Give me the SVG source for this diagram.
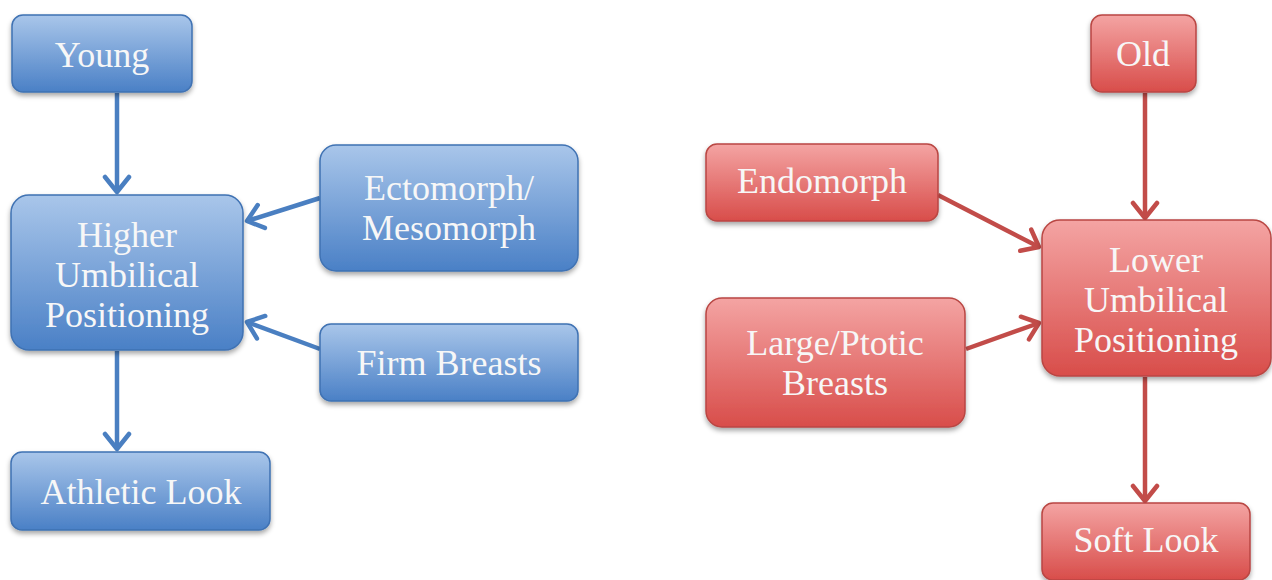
<svg xmlns="http://www.w3.org/2000/svg" width="1272" height="580" viewBox="0 0 1272 580">
  <defs>
    <linearGradient id="gBlue" x1="0" y1="0" x2="0" y2="1">
      <stop offset="0" stop-color="#a9c6ea"/>
      <stop offset="1" stop-color="#4a80c6"/>
    </linearGradient>
    <linearGradient id="gRed" x1="0" y1="0" x2="0" y2="1">
      <stop offset="0" stop-color="#f4a4a3"/>
      <stop offset="1" stop-color="#d84d4a"/>
    </linearGradient>
    <filter id="shadow" x="-10%" y="-10%" width="120%" height="130%">
      <feDropShadow dx="0" dy="3" stdDeviation="2.5" flood-color="#000" flood-opacity="0.35"/>
    </filter>
    <marker id="arrowBlue" viewBox="0 0 22 30" refX="19" refY="15" markerWidth="22" markerHeight="30" markerUnits="userSpaceOnUse" orient="auto">
      <path d="M4,3 L19,15 L4,27" fill="none" stroke="#4a7fc1" stroke-width="4.5" stroke-linecap="round" stroke-linejoin="round"/>
    </marker>
    <marker id="arrowRed" viewBox="0 0 22 30" refX="19" refY="15" markerWidth="22" markerHeight="30" markerUnits="userSpaceOnUse" orient="auto">
      <path d="M4,3 L19,15 L4,27" fill="none" stroke="#c24c49" stroke-width="4.5" stroke-linecap="round" stroke-linejoin="round"/>
    </marker>
  </defs>
  <style>
    .blue rect { fill: url(#gBlue); stroke: #3f72b3; stroke-width: 1.5; filter: url(#shadow); }
    .red rect { fill: url(#gRed); stroke: #b94643; stroke-width: 1.5; filter: url(#shadow); }
    text { font-family: "Liberation Serif", "DejaVu Serif", serif; font-size: 36px; fill: #f7f7f7; text-anchor: middle; }
    .cb { stroke: #4a7fc1; stroke-width: 4.5; fill: none; marker-end: url(#arrowBlue); }
    .cr { stroke: #c24c49; stroke-width: 4.5; fill: none; marker-end: url(#arrowRed); }
  </style>

  <rect width="1272" height="580" fill="#ffffff"/>

  <!-- connectors -->
  <g id="connectors">
    <line class="cb" x1="117" y1="93" x2="117" y2="192"/>
    <line class="cb" x1="320" y1="198" x2="247" y2="221"/>
    <line class="cb" x1="320" y1="349" x2="247" y2="322"/>
    <line class="cb" x1="117" y1="351" x2="117" y2="449"/>
    <line class="cr" x1="1145" y1="93" x2="1145" y2="218"/>
    <line class="cr" x1="938" y1="195" x2="1039" y2="247"/>
    <line class="cr" x1="966" y1="349" x2="1039" y2="323"/>
    <line class="cr" x1="1145" y1="377" x2="1145" y2="501"/>
  </g>

  <!-- left side: higher umbilical positioning -->
  <g id="young" class="blue">
    <rect x="12" y="15" width="180" height="77" rx="11"/>
    <text x="102" y="67">Young</text>
  </g>
  <g id="higher" class="blue">
    <rect x="11" y="195" width="232" height="155" rx="18"/>
    <text x="127" y="247">Higher</text>
    <text x="127" y="287">Umbilical</text>
    <text x="127" y="327">Positioning</text>
  </g>
  <g id="ectomorph" class="blue">
    <rect x="320" y="145" width="258" height="126" rx="16"/>
    <text x="449" y="200">Ectomorph/</text>
    <text x="449" y="240">Mesomorph</text>
  </g>
  <g id="firm" class="blue">
    <rect x="320" y="324" width="258" height="77" rx="11"/>
    <text x="449" y="375">Firm Breasts</text>
  </g>
  <g id="athletic" class="blue">
    <rect x="11" y="452" width="259" height="78" rx="11"/>
    <text x="141" y="504">Athletic Look</text>
  </g>

  <!-- right side: lower umbilical positioning -->
  <g id="old" class="red">
    <rect x="1091" y="15" width="105" height="77" rx="11"/>
    <text x="1143" y="66">Old</text>
  </g>
  <g id="endomorph" class="red">
    <rect x="706" y="144" width="232" height="77" rx="11"/>
    <text x="822" y="193">Endomorph</text>
  </g>
  <g id="lower" class="red">
    <rect x="1042" y="220" width="229" height="156" rx="18"/>
    <text x="1156" y="272">Lower</text>
    <text x="1156" y="312">Umbilical</text>
    <text x="1156" y="352">Positioning</text>
  </g>
  <g id="large" class="red">
    <rect x="706" y="298" width="259" height="129" rx="16"/>
    <text x="835" y="355">Large/Ptotic</text>
    <text x="835" y="395">Breasts</text>
  </g>
  <g id="soft" class="red">
    <rect x="1042" y="503" width="208" height="77" rx="11"/>
    <text x="1146" y="552">Soft Look</text>
  </g>
</svg>
